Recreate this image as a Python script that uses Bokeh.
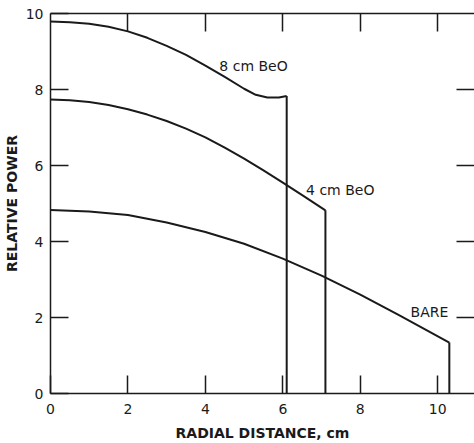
from bokeh.plotting import figure
from bokeh.models import Range1d, LinearAxis, FixedTicker, ColumnDataSource
from bokeh.embed import file_html
from bokeh.resources import INLINE
from bokeh.core.properties import value

# Radial power distributions (relative power vs radial distance, cm)
radius_8cm = [0.0, 0.5, 1.0, 1.5, 2.0, 2.5, 3.0, 3.5, 4.0, 4.5, 5.0, 5.3, 5.6, 5.9, 6.1]
power_8cm = [9.79, 9.77, 9.73, 9.65, 9.53, 9.36, 9.15, 8.91, 8.63, 8.33, 8.02, 7.86, 7.79, 7.79, 7.83]

radius_4cm = [0.0, 0.5, 1.0, 1.5, 2.0, 2.5, 3.0, 3.5, 4.0, 4.5, 5.0, 5.5, 6.0, 6.5, 7.1]
power_4cm = [7.74, 7.72, 7.67, 7.59, 7.48, 7.34, 7.17, 6.97, 6.74, 6.47, 6.18, 5.87, 5.55, 5.22, 4.82]

radius_bare = [0.0, 1.0, 2.0, 3.0, 4.0, 5.0, 6.0, 7.0, 8.0, 9.0, 10.3]
power_bare = [4.83, 4.79, 4.70, 4.50, 4.25, 3.94, 3.55, 3.10, 2.60, 2.06, 1.34]

curve_names = ["8 cm BeO", "4 cm BeO", "BARE"]
name_x = [4.36, 6.60, 9.30]
name_y = [8.63, 5.36, 2.14]

x_ticks = [0, 2, 4, 6, 8, 10]
y_ticks = [0, 2, 4, 6, 8, 10]
top_ticks = [2, 4, 6, 8, 10]
right_ticks = [2, 4, 6, 8]

INK = "#1a1a1a"
FONT = "DejaVu Sans"

p = figure(width=474, height=443, output_backend="svg", toolbar_location=None,
           x_range=Range1d(0, 10.95), y_range=Range1d(0, 10),
           min_border_left=49, min_border_right=0,
           min_border_top=13, min_border_bottom=49)
p.outline_line_color = None
p.grid.visible = False
p.background_fill_color = "white"
p.border_fill_color = "white"


def style_axis(ax):
    ax.axis_line_color = INK
    ax.axis_line_width = 1.5
    ax.major_tick_line_color = INK
    ax.major_tick_line_width = 1.5
    ax.major_tick_in = 18
    ax.major_tick_out = 0
    ax.minor_tick_line_color = None
    ax.major_label_text_font = FONT
    ax.major_label_text_font_size = "14px"
    ax.major_label_text_color = INK
    ax.axis_label_text_font = FONT
    ax.axis_label_text_font_size = "14px"
    ax.axis_label_text_font_style = "bold"
    ax.axis_label_text_color = INK


xa = p.xaxis[0]
xa.ticker = FixedTicker(ticks=x_ticks)
xa.axis_label = "RADIAL DISTANCE, cm"
style_axis(xa)
xa.major_label_standoff = 10
xa.axis_label_standoff = 8

ya = p.yaxis[0]
ya.ticker = FixedTicker(ticks=y_ticks)
ya.axis_label = "RELATIVE POWER"
style_axis(ya)
ya.major_label_standoff = 7
ya.axis_label_standoff = 3

# Frame ticks along the top and right edges, without labels
top = LinearAxis(ticker=FixedTicker(ticks=top_ticks))
style_axis(top)
top.major_label_overrides = {t: "" for t in top_ticks}
top.major_label_standoff = 0
p.add_layout(top, "above")

right = LinearAxis(ticker=FixedTicker(ticks=right_ticks))
style_axis(right)
right.axis_line_color = None
right.major_label_overrides = {t: "" for t in right_ticks}
right.major_label_standoff = 0
p.add_layout(right, "right")

# Curves, each dropping vertically to zero at its outer radius
for xs, ys in [(radius_8cm, power_8cm), (radius_4cm, power_4cm), (radius_bare, power_bare)]:
    p.line(xs, ys, line_color=INK, line_width=2, line_join="round")
    p.segment(x0=[xs[-1]], y0=[ys[-1]], x1=[xs[-1]], y1=[0],
              line_color=INK, line_width=2)

src = ColumnDataSource(dict(x=name_x, y=name_y, t=curve_names))
p.text(x="x", y="y", text="t", source=src, text_font=value(FONT),
       text_font_size="14px", text_color=INK, text_align="left",
       text_baseline="middle")

open("out.html", "w").write(file_html(p, INLINE))
